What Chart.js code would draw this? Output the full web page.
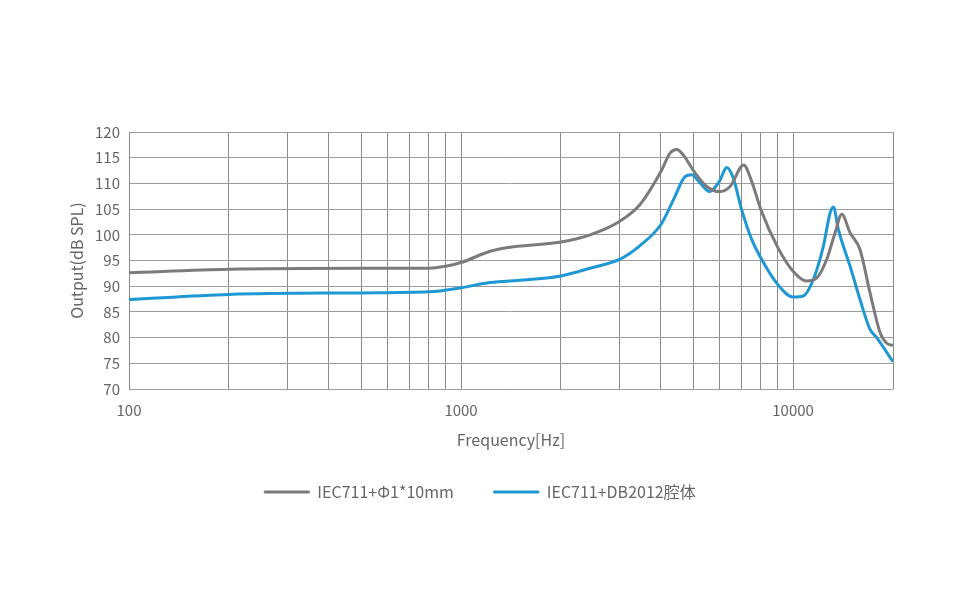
<!DOCTYPE html>
<html lang="zh">

<head>
    <meta charset="UTF-8">
    <title>Frequency response</title>
    <script src="https://cdn.jsdelivr.net/npm/chart.js"></script>
    <style>
        body { margin: 0; background: #fff; }
        #wrap { width: 976px; height: 613px; }
    </style>
</head>

<body>
    <div id="wrap">
        <canvas id="myChart" width="976" height="613"></canvas>
    </div>
</body>

<script>
    // values
    const grayFreq = [100, 200, 500, 800, 900, 1000, 1223, 1373, 2000, 2447, 3000, 3461, 4000, 4261, 4463, 4674, 5000, 5495, 6000, 6459, 7100, 7506, 8000, 9000, 10000, 10990, 11783, 12627, 13386, 14020, 14848, 15914, 17056, 18281, 19145, 20000];
    const grayDb = [92.6, 93.3, 93.5, 93.5, 93.9, 94.6, 96.8, 97.5, 98.6, 100.0, 102.6, 105.9, 112.3, 115.9, 116.6, 115.5, 112.6, 109.4, 108.4, 109.4, 113.6, 110.4, 104.9, 97.5, 92.9, 91.0, 91.6, 95.2, 100.4, 104.0, 100.4, 97.1, 88.7, 81.0, 78.9, 78.5];

    const blueFreq = [100, 200, 500, 800, 1000, 1223, 1540, 2000, 2447, 3000, 3461, 4000, 4362, 4728, 4952, 5247, 5598, 6000, 6312, 6611, 7000, 7506, 8000, 9000, 10000, 10740, 11510, 12340, 12925, 13230, 13695, 14848, 15914, 17056, 17860, 20000];
    const blueDb = [87.4, 88.4, 88.7, 88.9, 89.7, 90.7, 91.2, 92.0, 93.5, 95.2, 97.9, 102.0, 106.8, 111.3, 111.7, 110.1, 108.4, 110.4, 113.1, 111.0, 104.9, 99.1, 95.5, 90.3, 87.9, 88.1, 91.3, 97.8, 104.2, 105.4, 101.0, 93.9, 87.4, 81.6, 80.0, 75.3];

    const xTicks = [100, 200, 300, 400, 500, 600, 700, 800, 900, 1000, 2000, 3000, 4000, 5000, 6000, 7000, 8000, 9000, 10000, 20000];
    const xLabels = [100, 1000, 10000];

    const seriesNames = ['IEC711+Φ1*10mm', 'IEC711+DB2012腔体'];

    function toPoints(fs, vs) {
        return fs.map((f, i) => ({ x: f, y: vs[i] }));
    }

    Chart.defaults.font.family = '"Noto Sans CJK SC", "Noto Sans", sans-serif';
    Chart.defaults.font.size = 15;
    Chart.defaults.color = '#666';

    var ctx = document.getElementById('myChart').getContext('2d');
    var myChart = new Chart(ctx, {
        type: 'line',
        data: {
            datasets: [{
                label: seriesNames[0],
                data: toPoints(grayFreq, grayDb),
                borderColor: '#7b7b7b',
                backgroundColor: '#7b7b7b',
                borderWidth: 3,
                pointRadius: 0,
                cubicInterpolationMode: 'monotone'
            }, {
                label: seriesNames[1],
                data: toPoints(blueFreq, blueDb),
                borderColor: '#1e98d4',
                backgroundColor: '#1e98d4',
                borderWidth: 3,
                pointRadius: 0,
                cubicInterpolationMode: 'monotone'
            }]
        },
        options: {
            responsive: false,
            animation: false,
            layout: {
                padding: { left: 67, right: 83, top: 132, bottom: 103 }
            },
            scales: {
                x: {
                    type: 'logarithmic',
                    min: 100,
                    max: 20000,
                    afterBuildTicks: (scale) => {
                        scale.ticks = xTicks.map(v => ({ value: v }));
                    },
                    afterFit: (scale) => { scale.height = 55; },
                    ticks: {
                        autoSkip: false,
                        maxRotation: 0,
                        padding: 12,
                        callback: (v) => xLabels.includes(v) ? String(v) : ''
                    },
                    grid: {
                        color: '#8a8a8a',
                        drawTicks: false
                    },
                    border: { display: false },
                    title: {
                        display: true,
                        text: 'Frequency[Hz]',
                        font: { size: 16 },
                        padding: { top: 4, bottom: -6 }
                    }
                },
                y: {
                    min: 70,
                    max: 120,
                    afterFit: (scale) => { scale.width = 62; },
                    ticks: {
                        stepSize: 5,
                        padding: 9
                    },
                    grid: {
                        color: '#9c9c9c',
                        drawTicks: false
                    },
                    border: { color: '#8a8a8a' },
                    title: {
                        display: true,
                        text: 'Output(dB SPL)',
                        font: { size: 16 },
                        padding: { top: 0, bottom: 4 }
                    }
                }
            },
            plugins: {
                tooltip: { enabled: false },
                legend: {
                    position: 'bottom',
                    labels: {
                        boxWidth: 45,
                        boxHeight: 2,
                        padding: 40,
                        font: { size: 16 },
                        generateLabels: (chart) => {
                            const items = Chart.defaults.plugins.legend.labels.generateLabels(chart);
                            items.forEach(it => { it.lineWidth = 1; });
                            return items;
                        }
                    }
                }
            }
        }
    });
</script>

</html>
